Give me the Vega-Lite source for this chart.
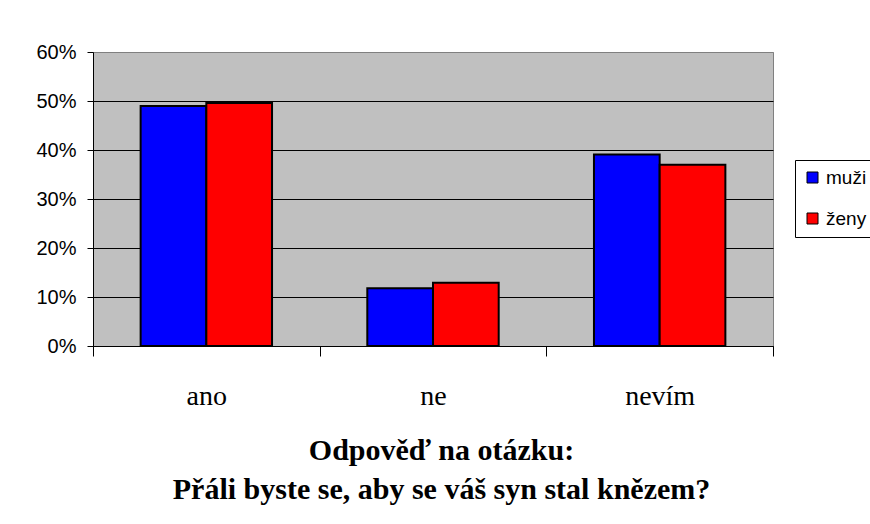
{
  "$schema": "https://vega.github.io/schema/vega-lite/v6.json",
  "width": 680,
  "height": 294,
  "autosize": {"type": "none"},
  "padding": {"left": 93, "top": 52, "right": 97, "bottom": 178},
  "background": "white",
  "data": {
    "values": [
      {"odpoved": "ano", "pohlavi": "muži", "podil": 0.49},
      {"odpoved": "ano", "pohlavi": "ženy", "podil": 0.496},
      {"odpoved": "ne", "pohlavi": "muži", "podil": 0.118},
      {"odpoved": "ne", "pohlavi": "ženy", "podil": 0.129},
      {"odpoved": "nevím", "pohlavi": "muži", "podil": 0.391},
      {"odpoved": "nevím", "pohlavi": "ženy", "podil": 0.37}
    ]
  },
  "mark": {"type": "bar", "stroke": "black", "strokeWidth": 2},
  "encoding": {
    "x": {
      "field": "odpoved",
      "type": "nominal",
      "sort": ["ano", "ne", "nevím"],
      "scale": {"paddingInner": 0, "paddingOuter": 0},
      "axis": {
        "title": ["Odpověď na otázku:", "Přáli byste se, aby se váš syn stal knězem?"],
        "labelAngle": 0,
        "tickBand": "extent",
        "tickSize": 10,
        "tickColor": "black",
        "domainColor": "black",
        "grid": false,
        "labelFont": "Liberation Serif",
        "labelFontSize": 28,
        "labelColor": "black",
        "labelBaseline": "alphabetic",
        "labelPadding": 48,
        "titleFont": "Liberation Serif",
        "titleFontSize": 30,
        "titleFontWeight": "bold",
        "titleColor": "black",
        "titleLineHeight": 39,
        "titleBaseline": "alphabetic",
        "titleAlign": "center",
        "titleX": 348,
        "titleY": 113
      }
    },
    "xOffset": {
      "field": "pohlavi",
      "type": "nominal",
      "sort": ["muži", "ženy"],
      "scale": {"paddingInner": 0, "paddingOuter": 0.725}
    },
    "y": {
      "field": "podil",
      "type": "quantitative",
      "scale": {"domain": [0, 0.6]},
      "axis": {
        "title": null,
        "format": ".0%",
        "values": [0, 0.1, 0.2, 0.3, 0.4, 0.5, 0.6],
        "tickSize": 6,
        "tickColor": "black",
        "domainColor": "black",
        "labelFont": "Liberation Sans",
        "labelFontSize": 20,
        "labelColor": "black",
        "labelPadding": 11,
        "grid": true,
        "gridColor": {"condition": {"test": "datum.value >= 0.6", "value": "#808080"}, "value": "black"},
        "gridWidth": 1
      }
    },
    "color": {
      "field": "pohlavi",
      "type": "nominal",
      "scale": {"domain": ["muži", "ženy"], "range": ["#0000FF", "#FF0000"]},
      "legend": {
        "title": null,
        "orient": "none",
        "legendX": 702,
        "legendY": 108,
        "strokeColor": "black",
        "fillColor": "white",
        "padding": 8,
        "symbolType": "square",
        "symbolSize": 121,
        "symbolStrokeColor": "black",
        "symbolStrokeWidth": 1,
        "labelFont": "Liberation Sans",
        "labelFontSize": 19,
        "labelColor": "black",
        "labelOffset": 4,
        "rowPadding": 21
      }
    }
  },
  "config": {
    "view": {"fill": "#C0C0C0", "stroke": "#808080"}
  }
}
